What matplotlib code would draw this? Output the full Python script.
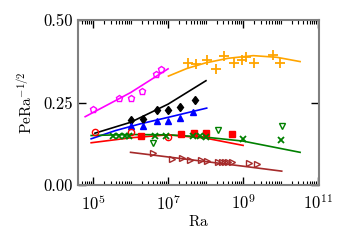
import numpy as np
import matplotlib
matplotlib.use("Agg")
import matplotlib.pyplot as plt
from matplotlib.ticker import LogLocator, LogFormatterMathtext, NullFormatter, FixedLocator

plt.rcParams["font.family"] = "serif"
plt.rcParams["font.serif"] = ["cmr10", "DejaVu Serif"]
plt.rcParams["mathtext.fontset"] = "cm"
plt.rcParams["axes.formatter.use_mathtext"] = True

# data (log10 Ra, PeRa^-1/2)
mag_ra = [5.0, 5.69, 6.0, 6.31, 6.67, 6.82]
mag_y = [0.23, 0.263, 0.265, 0.285, 0.336, 0.351]
ora_ra = [7.52, 7.75, 8.03, 8.28, 8.49, 8.77, 8.98, 9.09, 9.29, 9.81, 9.99]
ora_y = [0.369, 0.366, 0.379, 0.351, 0.391, 0.369, 0.379, 0.389, 0.371, 0.393, 0.369]
blk_ra = [6.0, 6.32, 6.7, 7.0, 7.32, 7.72]
blk_y = [0.197, 0.2, 0.227, 0.227, 0.235, 0.258]
blu_ra = [6.0, 6.32, 6.7, 7.0, 7.32, 7.67]
blu_y = [0.18, 0.18, 0.194, 0.194, 0.204, 0.22]
redc_ra = [5.05, 6.0, 7.0]
redc_y = [0.161, 0.16, 0.145]
reds_ra = [6.28, 7.35, 7.7, 8.0, 8.7]
reds_y = [0.148, 0.155, 0.158, 0.157, 0.155]
grx_ra = [5.54, 5.7, 5.85, 5.97, 6.65, 6.95, 7.67, 7.85, 8.0, 9.0, 10.0]
grx_y = [0.148, 0.148, 0.148, 0.148, 0.149, 0.15, 0.15, 0.148, 0.146, 0.138, 0.136]
grv_ra = [6.6, 8.33, 10.05]
grv_y = [0.128, 0.168, 0.18]
brn_ra = [6.6, 7.1, 7.36, 7.59, 7.87, 8.05, 8.34, 8.43, 8.52, 8.6, 8.7, 9.15, 9.37]
brn_y = [0.096, 0.079, 0.081, 0.076, 0.077, 0.074, 0.071, 0.071, 0.071, 0.071, 0.071, 0.066, 0.063]

# fitted curves, a few points each
fit_mag_ra, fit_mag_y = [4.79, 6.0, 7.0], [0.207, 0.28, 0.352]
fit_ora_ra, fit_ora_y = [7.01, 7.5, 8.0, 8.6, 9.27, 9.9, 10.52], [0.33, 0.353, 0.37, 0.384, 0.392, 0.387, 0.374]
fit_blk_ra, fit_blk_y = [5.05, 6.0, 7.0, 8.01], [0.157, 0.19, 0.245, 0.316]
fit_blu_ra, fit_blu_y = [4.95, 5.6, 6.25, 7.0, 8.03], [0.14, 0.165, 0.185, 0.205, 0.233]
fit_red_ra, fit_red_y = [4.95, 6.0, 7.0, 8.0, 9.0], [0.128, 0.143, 0.152, 0.142, 0.12]
fit_grn_ra, fit_grn_y = [4.95, 6.0, 7.0, 8.0, 9.0, 10.52], [0.15, 0.153, 0.152, 0.145, 0.133, 0.099]
fit_brn_ra, fit_brn_y = [6.0, 7.0, 8.0, 9.0, 10.03], [0.099, 0.085, 0.071, 0.057, 0.042]

fig = plt.figure(figsize=(3.5, 2.5), dpi=100)
ax = fig.add_axes([0.223, 0.26, 0.688, 0.66])

def p(ra):
    return 10 ** np.array(ra)

lw = 1.2
ms = 4.5
ax.plot(p(fit_mag_ra), fit_mag_y, color="#ff00ff", lw=lw)
ax.plot(p(fit_ora_ra), fit_ora_y, color="#ffa500", lw=lw)
ax.plot(p(fit_blk_ra), fit_blk_y, color="black", lw=lw)
ax.plot(p(fit_blu_ra), fit_blu_y, color="#0000ff", lw=lw)
ax.plot(p(fit_red_ra), fit_red_y, color="#ff0000", lw=lw)
ax.plot(p(fit_grn_ra), fit_grn_y, color="#008000", lw=lw)
ax.plot(p(fit_brn_ra), fit_brn_y, color="#a52a2a", lw=lw)

ax.plot(p(mag_ra), mag_y, "p", mfc="none", mec="#ff00ff", ms=ms, mew=1)
ax.plot(p(ora_ra), ora_y, "+", color="#ffa500", ms=7.5, mew=1.3)
ax.plot(p(blk_ra), blk_y, "d", color="black", ms=ms)
ax.plot(p(blu_ra), blu_y, "^", color="#0000ff", ms=ms)
ax.plot(p(redc_ra), redc_y, "o", mfc="none", mec="#ff0000", ms=ms, mew=1)
ax.plot(p(reds_ra), reds_y, "s", color="#ff0000", ms=4)
ax.plot(p(grx_ra), grx_y, "x", color="#008000", ms=ms, mew=1.3)
ax.plot(p(grv_ra), grv_y, "v", mfc="none", mec="#008000", ms=ms, mew=1)
ax.plot(p(brn_ra), brn_y, ">", mfc="none", mec="#a52a2a", ms=ms, mew=1)

ax.set_xscale("log")
ax.set_xlim(10 ** 4.6, 10 ** 11.02)
ax.set_ylim(0, 0.5)
ax.xaxis.set_major_locator(FixedLocator([1e5, 1e7, 1e9, 1e11]))
ax.xaxis.set_major_formatter(LogFormatterMathtext())
ax.xaxis.set_minor_locator(LogLocator(base=10, subs=np.arange(1, 10), numticks=30))
ax.xaxis.set_minor_formatter(NullFormatter())
ax.set_yticks([0, 0.25, 0.5])
ax.set_yticklabels(["0.00", "0.25", "0.50"])

ax.tick_params(which="both", direction="in", top=True, right=True, labelsize=12, color="black")
ax.tick_params(which="major", length=6, width=1)
ax.tick_params(axis="x", which="major", pad=6)
ax.tick_params(which="minor", length=3, width=0.8)
for s in ax.spines.values():
    s.set_color("#808080")
    s.set_linewidth(1.5)

ax.set_xlabel(r"$\mathrm{Ra}$", fontsize=11, labelpad=1)
ax.set_ylabel(r"$\mathrm{PeRa}^{-1/2}$", fontsize=11, labelpad=6)

fig.savefig("out.png", dpi=100)
